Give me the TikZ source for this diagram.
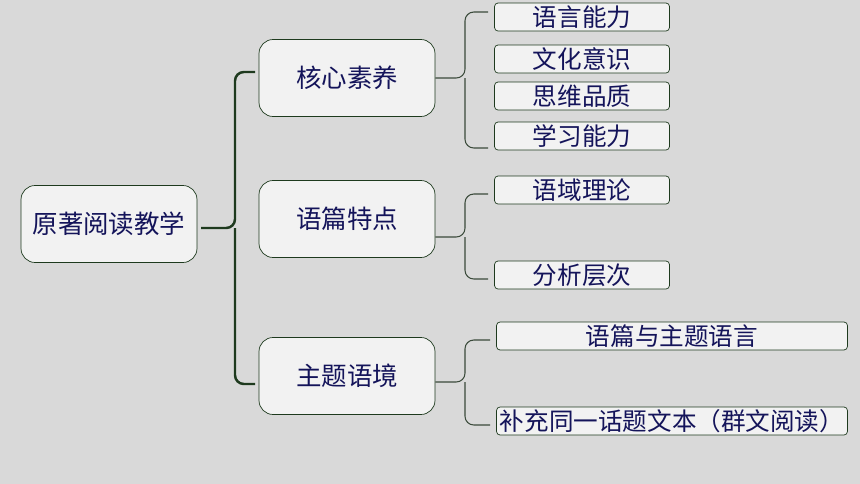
\documentclass[tikz,border=0pt]{standalone}
\usepackage{fontspec}
\setmainfont{Noto Sans CJK SC}
\definecolor{bg}{HTML}{D9D9D9}
\definecolor{boxfill}{HTML}{F2F2F2}
\definecolor{boxline}{HTML}{1E3A1E}
\definecolor{txt}{HTML}{14145A}
\definecolor{brace}{HTML}{3A4A3A}
\tikzset{
  mainbox/.style={draw=boxline,fill=boxfill,rounded corners=8pt,minimum width=3.52cm,minimum height=1.54cm,text=txt,font=\fontsize{14.5}{16}\selectfont},
  leafbox/.style={draw=boxline,fill=boxfill,rounded corners=2pt,minimum width=3.5cm,minimum height=0.56cm,inner sep=0pt,text=txt,font=\fontsize{14}{15}\selectfont},
  widebox/.style={leafbox,minimum width=7.02cm},
  bigbrace/.style={draw=boxline,line width=1.4pt,rounded corners=5pt},
  smallbrace/.style={draw=brace,line width=0.6pt,rounded corners=5pt}
}
\begin{document}
\begin{tikzpicture}[x=0.02cm,y=-0.02cm]
\fill[bg] (0,0) rectangle (860,484);

\node[mainbox] (root) at (109,224) {原著阅读教学};
\node[mainbox] (core) at (347,78) {核心素养};
\node[mainbox] (text) at (347,219) {语篇特点};
\node[mainbox] (theme) at (347,376) {主题语境};

\node[leafbox] (l1) at (582,17) {语言能力};
\node[leafbox] (l2) at (582,59) {文化意识};
\node[leafbox] (l3) at (582,96) {思维品质};
\node[leafbox] (l4) at (582,136) {学习能力};
\node[leafbox] (l5) at (582,190) {语域理论};
\node[leafbox] (l6) at (582,275) {分析层次};
\node[widebox] (l7) at (672,336) {语篇与主题语言};
\node[widebox] (l8) at (672,421) {补充同一话题文本（群文阅读）};

% main brace
\coordinate (bm) at (235,228);
\draw[bigbrace] (255,72) -- (235,72) -- (bm) -- (201,228);
\draw[bigbrace] (255,384) -- (235,384) -- (bm);

% small braces
\draw[smallbrace] (488,12) -- (465,12) -- (465,78) -- (core.east);
\draw[smallbrace] (488,148) -- (465,148) -- (465,78);
\draw[smallbrace] (488,194) -- (465,194) -- (465,237) -- (text.east |- 0,237);
\draw[smallbrace] (488,279) -- (465,279) -- (465,237);
\draw[smallbrace] (490,340) -- (465,340) -- (465,382) -- (theme.east |- 0,382);
\draw[smallbrace] (490,425) -- (465,425) -- (465,382);
\end{tikzpicture}
\end{document}
